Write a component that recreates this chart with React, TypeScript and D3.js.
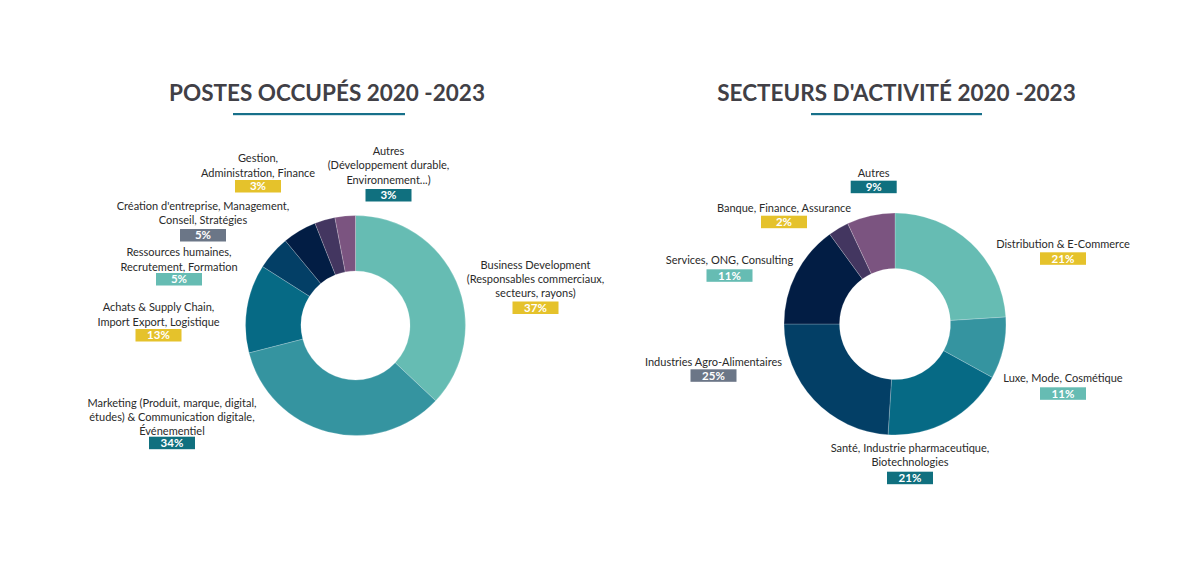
import React from 'react';
import * as d3 from 'd3';

// ---------- DATA ----------
const postesTitle = 'POSTES OCCUPÉS 2020 -2023';
const postesCategories: string[][] = [
  ['Business Development', '(Responsables commerciaux,', 'secteurs, rayons)'],
  ['Marketing (Produit, marque, digital,', 'études) & Communication digitale,', 'Événementiel'],
  ['Achats & Supply Chain,', 'Import Export, Logistique'],
  ['Ressources humaines,', 'Recrutement, Formation'],
  ["Création d'entreprise, Management,", 'Conseil, Stratégies'],
  ['Gestion,', 'Administration, Finance'],
  ['Autres', '(Développement durable,', 'Environnement...)'],
];
const postesValues = [37, 34, 13, 5, 5, 3, 3];
const postesPercentLabels = ['37%', '34%', '13%', '5%', '5%', '3%', '3%'];

const secteursTitle = "SECTEURS D'ACTIVITÉ 2020 -2023";
const secteursCategories: string[][] = [
  ['Distribution & E-Commerce'],
  ['Luxe, Mode, Cosmétique'],
  ['Santé, Industrie pharmaceutique,', 'Biotechnologies'],
  ['Industries Agro-Alimentaires'],
  ['Services, ONG, Consulting'],
  ['Banque, Finance, Assurance'],
  ['Autres'],
];
// slice sizes as drawn in the picture
const secteursSliceValues = [24, 9, 18, 24, 15, 3, 7];
const secteursPercentLabels = ['21%', '11%', '21%', '25%', '11%', '2%', '9%'];

// ---------- STYLES / LAYOUT ----------
const sliceColors = ['#66bcb3', '#3594a0', '#066a85', '#033f66', '#021d44', '#433660', '#7b5480'];
const YELLOW = '#e5c22b';
const TEAL = '#10707f';
const LTEAL = '#66bcb3';
const GREY = '#6b7687';
const postesBadgeColors = [YELLOW, TEAL, YELLOW, LTEAL, GREY, YELLOW, TEAL];
const secteursBadgeColors = [YELLOW, LTEAL, TEAL, GREY, LTEAL, YELLOW, TEAL];

type LabelPos = { x: number; y: number; lh: number; by: number };
const postesLabelPos: LabelPos[] = [
  { x: 535.5, y: 265, lh: 14, by: 301.5 },
  { x: 172, y: 402.7, lh: 14, by: 436.7 },
  { x: 158.5, y: 306.7, lh: 15, by: 329 },
  { x: 179, y: 251.7, lh: 15, by: 273 },
  { x: 203, y: 205.7, lh: 14.5, by: 229 },
  { x: 258, y: 158, lh: 14.7, by: 180 },
  { x: 388.5, y: 150.7, lh: 14.7, by: 189 },
];
const secteursLabelPos: LabelPos[] = [
  { x: 1063, y: 244, lh: 14, by: 252.3 },
  { x: 1063, y: 378.3, lh: 14, by: 387.3 },
  { x: 910, y: 448.3, lh: 14, by: 471.7 },
  { x: 713.5, y: 361.7, lh: 14, by: 369.3 },
  { x: 729.5, y: 260, lh: 14, by: 269.3 },
  { x: 784, y: 208.3, lh: 14, by: 215.7 },
  { x: 873.7, y: 172.7, lh: 14, by: 180.7 },
];

const FONT = 'Lato, "Open Sans", sans-serif';

type DonutProps = {
  title: string;
  titleX: number;
  lineX1: number;
  lineX2: number;
  cx: number;
  cy: number;
  r: number;
  ri: number;
  values: number[];
  categories: string[][];
  percents: string[];
  badgeColors: string[];
  labelPos: LabelPos[];
};

function Donut(p: DonutProps) {
  const pie = d3.pie<number>().sort(null).value((d) => d);
  const arcs = pie(p.values);
  const arc = d3.arc<d3.PieArcDatum<number>>().innerRadius(p.ri).outerRadius(p.r);
  const bw = 46;
  const bh = 12.5;
  return (
    <g>
      <text x={p.titleX} y={101} textAnchor="middle" fontFamily={FONT} fontWeight={700} fontSize={22.5} fill="#414046">
        {p.title}
      </text>
      <rect x={p.lineX1} y={113} width={p.lineX2 - p.lineX1} height={2.2} fill="#17708a" />
      <g transform={`translate(${p.cx},${p.cy})`}>
        {arcs.map((a, i) => (
          <path key={i} d={arc(a) || ''} fill={sliceColors[i]} stroke="#ffffff" strokeOpacity={0.35} strokeWidth={0.6} />
        ))}
      </g>
      {p.categories.map((lines, i) => {
        const lp = p.labelPos[i];
        return (
          <g key={i}>
            {lines.map((ln, j) => (
              <text
                key={j}
                x={lp.x}
                y={lp.y + j * lp.lh}
                dy="0.35em"
                textAnchor="middle"
                fontFamily={FONT}
                fontSize={11}
                fill="#2a2a2a"
              >
                {ln}
              </text>
            ))}
            <rect x={lp.x - bw / 2} y={lp.by} width={bw} height={bh} fill={p.badgeColors[i]} />
            <text
              x={lp.x}
              y={lp.by + bh / 2}
              dy="0.36em"
              textAnchor="middle"
              fontFamily={FONT}
              fontWeight={700}
              fontSize={11.5}
              fill="#ffffff"
            >
              {p.percents[i]}
            </text>
          </g>
        );
      })}
    </g>
  );
}

export default function App() {
  return (
    <svg
      width={1200}
      height={567}
      viewBox="0 0 1200 567"
      style={{ position: 'absolute', left: 0, top: 0, background: '#ffffff' }}
    >
      <rect x={0} y={0} width={1200} height={567} fill="#ffffff" />
      <Donut
        title={postesTitle}
        titleX={327}
        lineX1={233}
        lineX2={405}
        cx={355.5}
        cy={325.5}
        r={110}
        ri={54.5}
        values={postesValues}
        categories={postesCategories}
        percents={postesPercentLabels}
        badgeColors={postesBadgeColors}
        labelPos={postesLabelPos}
      />
      <Donut
        title={secteursTitle}
        titleX={896.5}
        lineX1={811}
        lineX2={982}
        cx={895}
        cy={324}
        r={111}
        ri={55.5}
        values={secteursSliceValues}
        categories={secteursCategories}
        percents={secteursPercentLabels}
        badgeColors={secteursBadgeColors}
        labelPos={secteursLabelPos}
      />
    </svg>
  );
}
